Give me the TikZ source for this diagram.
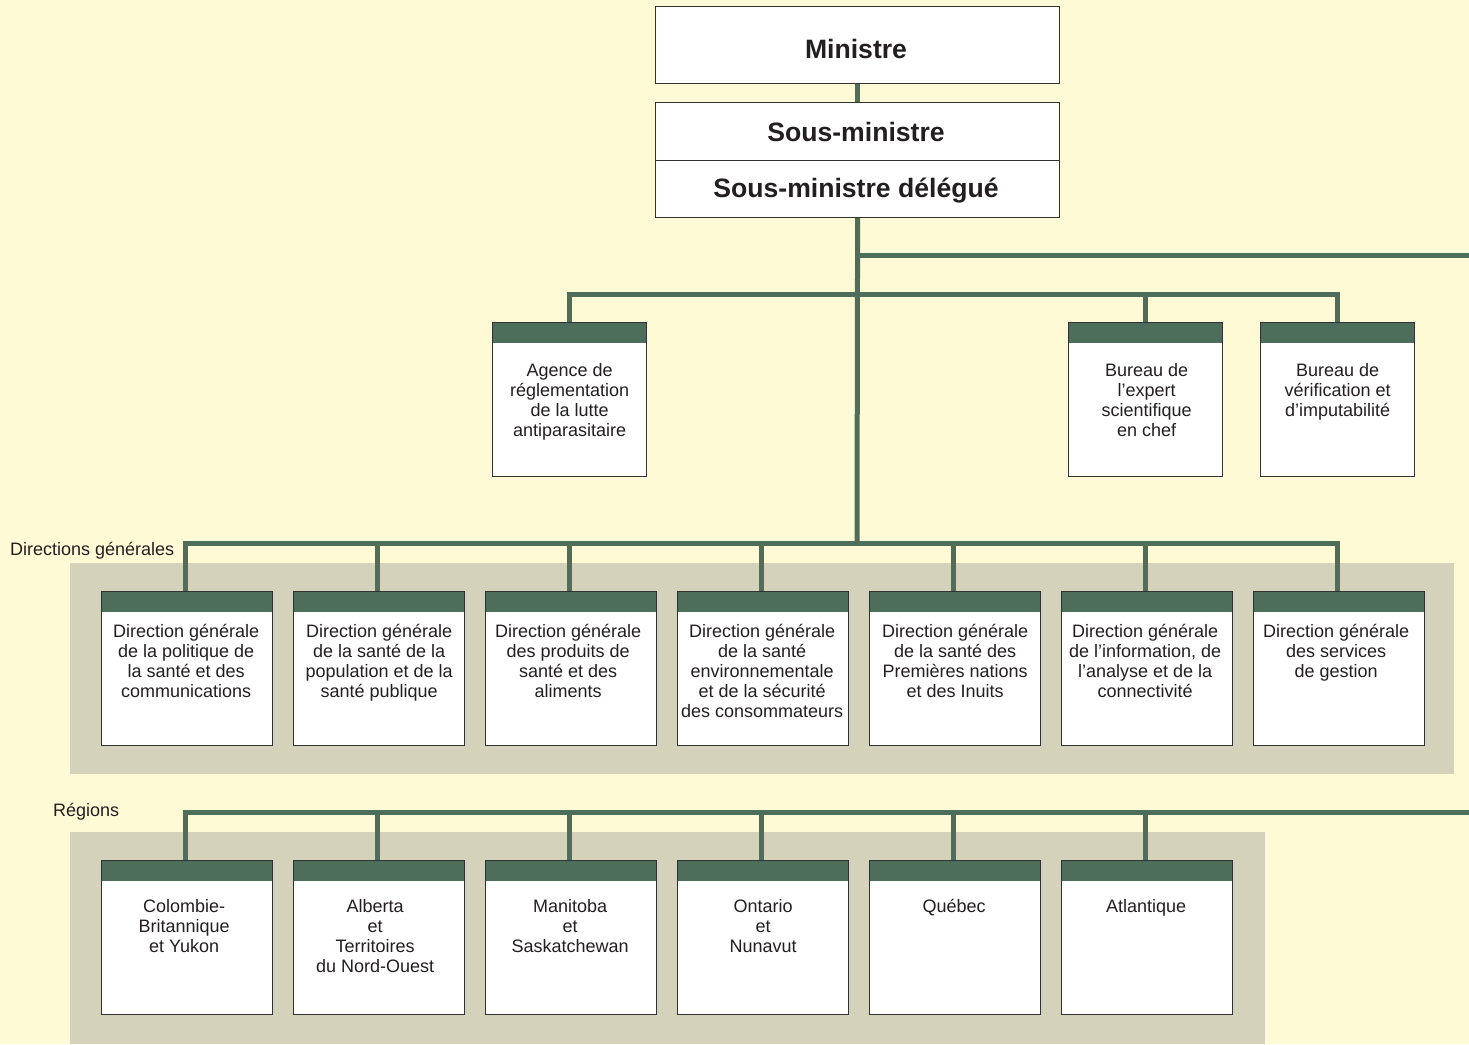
\documentclass[tikz,border=0pt]{standalone}
\usepackage{fontspec}
\setmainfont{Liberation Sans}
\usetikzlibrary{calc}
\definecolor{bgc}{RGB}{255,250,214}
\definecolor{panelc}{RGB}{212,210,187}
\definecolor{connc}{RGB}{77,110,90}
\definecolor{txtc}{RGB}{35,31,32}
\definecolor{edgec}{RGB}{50,50,50}
\tikzset{
  conn/.style={draw=connc, line width=5pt},
  topbox/.style={draw=edgec, line width=1.2pt, fill=white, minimum width=404pt, inner sep=0pt, anchor=north west},
  unitbox/.style={draw=edgec, line width=1.2pt, fill=white, minimum height=154pt, inner sep=0pt, anchor=north west,
    path picture={\fill[connc] (path picture bounding box.north west) rectangle ([yshift=-20pt]path picture bounding box.north east);}},
  wbox/.style={unitbox, minimum width=171pt},
  nbox/.style={unitbox, minimum width=154pt},
  utext/.style={anchor=north, align=center, inner sep=0pt, text=txtc, font=\fontsize{18}{20}\selectfont},
  bigtext/.style={anchor=north, align=center, inner sep=0pt, text=txtc, font=\fontsize{26.6}{30}\selectfont\bfseries},
  grouplabel/.style={anchor=base west, inner sep=0pt, text=txtc, font=\fontsize{18}{20}\selectfont}
}
\begin{document}
\begin{tikzpicture}[x=1pt,y=-1pt]
\fill[bgc] (0,0) rectangle (1469,1044);
\useasboundingbox (0,0) rectangle (1469,1044);
% panels
\fill[panelc] (70,563) rectangle (1454,774);
\fill[panelc] (70,832) rectangle (1265,1044);

% top boxes
\node[topbox, minimum height=77pt] (min) at (655,6) {};
\node[topbox, minimum height=58pt] (sm) at (655,102) {};
\node[topbox, minimum height=57pt] (smd) at (655,160) {};
\node[bigtext] (mint) at (856,37) {\strut Ministre};
\node[bigtext] (smt) at (856,120) {\strut Sous-ministre};
\node[bigtext] (smdt) at (856,176) {\strut Sous-ministre délégué};

% second level boxes
\node[nbox] (ag) at (492,322) {};
\node[nbox] (be) at (1068,322) {};
\node[nbox] (bv) at (1260,322) {};
\node[utext] (agt) at ($(ag.north)+(0,40)$) {\strut Agence de\\réglementation\\de la lutte\\antiparasitaire};
\node[utext] (bet) at ($(be.north)+(1,40)$) {\strut Bureau de\\l’expert\\scientifique\\en chef};
\node[utext] (bvt) at ($(bv.north)+(0,40)$) {\strut Bureau de\\vérification et\\d’imputabilité};

% directions
\node[wbox] (d1) at (101,591) {};
\node[wbox] (d2) at (293,591) {};
\node[wbox] (d3) at (485,591) {};
\node[wbox] (d4) at (677,591) {};
\node[wbox] (d5) at (869,591) {};
\node[wbox] (d6) at (1061,591) {};
\node[wbox] (d7) at (1253,591) {};
\node[utext] (d1t) at ($(d1.north)+(-1,32)$) {\strut Direction générale\\de la politique de\\la santé et des\\communications};
\node[utext] (d2t) at ($(d2.north)+(0,32)$) {\strut Direction générale\\de la santé de la\\population et de la\\santé publique};
\node[utext] (d3t) at ($(d3.north)+(-3,32)$) {\strut Direction générale\\des produits de\\santé et des\\aliments};
\node[utext] (d4t) at ($(d4.north)+(-1,32)$) {\strut Direction générale\\de la santé\\environnementale\\et de la sécurité\\des consommateurs};
\node[utext] (d5t) at ($(d5.north)+(0,32)$) {\strut Direction générale\\de la santé des\\Premières nations\\et des Inuits};
\node[utext] (d6t) at ($(d6.north)+(-2,32)$) {\strut Direction générale\\de l’information, de\\l’analyse et de la\\connectivité};
\node[utext] (d7t) at ($(d7.north)+(-3,32)$) {\strut Direction générale\\des services\\de gestion};

% regions
\node[wbox] (r1) at (101,860) {};
\node[wbox] (r2) at (293,860) {};
\node[wbox] (r3) at (485,860) {};
\node[wbox] (r4) at (677,860) {};
\node[wbox] (r5) at (869,860) {};
\node[wbox] (r6) at (1061,860) {};
\node[utext] (r1t) at ($(r1.north)+(-3,38)$) {\strut Colombie-\\Britannique\\et Yukon};
\node[utext] (r2t) at ($(r2.north)+(-4,38)$) {\strut Alberta\\et\\Territoires\\du Nord-Ouest};
\node[utext] (r3t) at ($(r3.north)+(-1,38)$) {\strut Manitoba\\et\\Saskatchewan};
\node[utext] (r4t) at ($(r4.north)+(0,38)$) {\strut Ontario\\et\\Nunavut};
\node[utext] (r5t) at ($(r5.north)+(-1,38)$) {\strut Québec};
\node[utext] (r6t) at ($(r6.north)+(-1,38)$) {\strut Atlantique};

% group labels
\node[grouplabel] (lbl1) at (10,555) {Directions générales};
\node[grouplabel] (lbl2) at (53,816) {Régions};

% connector coordinates
\coordinate (hr) at (857,255);
\coordinate (hre) at (1469,255);
\coordinate (h1) at (857,294);
\coordinate (h2) at (857,543);
\coordinate (h3) at (1469,812);

% connectors
\draw[conn] (min.south) -- (sm.north);
\draw[conn] (smd.south) -- (h2);
\draw[conn] (hr) -- (hre);
\draw[conn] (ag.north) |- (h1) -| (bv.north);
\draw[conn] (be.north) -- (be.north |- h1);
\draw[conn] ([xshift=-1.5pt]d1.north) |- (h2) -| ([xshift=-1.5pt]d7.north);
\foreach \n in {d2,d3,d4,d5,d6} \draw[conn] ([xshift=-1.5pt]\n.north) -- ([xshift=-1.5pt]\n.north |- h2);
\draw[conn] ([xshift=-1.5pt]r1.north) |- (h3);
\foreach \n in {r2,r3,r4,r5,r6} \draw[conn] ([xshift=-1.5pt]\n.north) -- ([xshift=-1.5pt]\n.north |- h3);
\end{tikzpicture}
\end{document}
